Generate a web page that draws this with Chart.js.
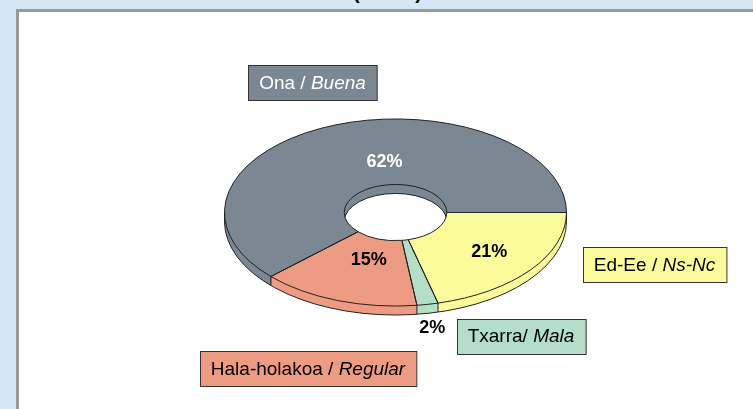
<!DOCTYPE html>
<html>
<head>
<meta charset="utf-8">
<script src="https://cdn.jsdelivr.net/npm/chart.js@4"></script>
<style>
  html, body { margin: 0; padding: 0; }
  body { width: 753px; height: 409px; background: #d5e6f4; position: relative; overflow: hidden; font-family: "Liberation Sans", Arial, sans-serif; }
  #panel { position: absolute; left: 16px; top: 9px; width: 760px; height: 420px; background: #fff;
           border-left: 3px solid #9a9a9a; border-top: 3px solid #9a9a9a; }
  #title { position: absolute; left: 0; width: 775px; top: -19px; text-align: center; font: bold 20px "Liberation Sans", Arial, sans-serif; white-space: pre; color: #000; }
  #chart { position: absolute; left: 0; top: 0; }
</style>
</head>
<body>
<div id="panel"></div>
<div id="title">(          )</div>
<canvas id="chart" width="753" height="409"></canvas>
<script>
// ======== Data ========
const labelsEu = ['Ed-Ee / ', 'Txarra/ ', 'Hala-holakoa / ', 'Ona / '];
const labelsEs = ['Ns-Nc', 'Mala', 'Regular', 'Buena'];
const values = [21, 2, 15, 62];
const colors = ['#fbfb9c', '#b4dec8', '#ee9b83', '#7b8893'];
const pctColors = ['#000', '#000', '#000', '#fff'];

// ======== Layout constants ========
const K = 0.547;     // vertical squash of the tilted ring
const DEPTH = 9;     // thickness of the ring side
const FONT = '"Liberation Sans", Arial, sans-serif';
const pctOffsets = [[6, 2], [16, 56], [11, -10], [30, 6]];
const boxCenters = [[654.5, 264.5], [521, 336], [308, 368.5], [312.5, 82.5]];

function ringPath(ctx, a, dy) {
  ctx.beginPath();
  ctx.ellipse(a.x, a.y + dy, a.outerRadius, a.outerRadius * K, 0, a.startAngle, a.endAngle);
  ctx.ellipse(a.x, a.y + dy, a.innerRadius, a.innerRadius * K, 0, a.endAngle, a.startAngle, true);
  ctx.closePath();
}

const tiltPlugin = {
  id: 'tilt',
  beforeDatasetsDraw(chart) {
    const ctx = chart.ctx;
    const arcs = chart.getDatasetMeta(0).data;
    // side of the ring, stacked layers
    for (let d = DEPTH; d >= 1; d--) {
      arcs.forEach((a, i) => {
        ringPath(ctx, a, d);
        ctx.fillStyle = colors[i];
        ctx.fill();
      });
    }
    const a = arcs[0];
    ctx.save();
    ctx.translate(a.x, a.y);
    ctx.scale(1, K);
    ctx.translate(-a.x, -a.y);
  },
  afterDatasetsDraw(chart) {
    const ctx = chart.ctx;
    ctx.restore();
    const arcs = chart.getDatasetMeta(0).data;
    const c = arcs[0];
    const R = c.outerRadius, r = c.innerRadius;
    ctx.save();
    ctx.strokeStyle = '#222';
    ctx.lineWidth = 1;
    // top outlines
    arcs.forEach(a => { ringPath(ctx, a, 0); ctx.stroke(); });
    // bottom rim of the front
    ctx.beginPath();
    ctx.ellipse(c.x, c.y + DEPTH, R, R * K, 0, 0, Math.PI);
    ctx.stroke();
    // vertical edges
    ctx.beginPath();
    ctx.moveTo(c.x - R, c.y); ctx.lineTo(c.x - R, c.y + DEPTH);
    ctx.moveTo(c.x + R, c.y); ctx.lineTo(c.x + R, c.y + DEPTH);
    arcs.forEach(a => {
      const t = a.startAngle;
      if (Math.sin(t) > 0.01) {
        const x = c.x + R * Math.cos(t), y = c.y + R * K * Math.sin(t);
        ctx.moveTo(x, y); ctx.lineTo(x, y + DEPTH);
      }
    });
    ctx.stroke();
    // inner wall bottom edge seen through the hole
    ctx.beginPath();
    ctx.ellipse(c.x, c.y, r, r * K, 0, 0, Math.PI * 2);
    ctx.clip();
    ctx.beginPath();
    ctx.ellipse(c.x, c.y + DEPTH, r, r * K, 0, Math.PI, Math.PI * 2);
    ctx.stroke();
    ctx.restore();
  },
  afterDraw(chart) {
    const ctx = chart.ctx;
    const arcs = chart.getDatasetMeta(0).data;
    const total = values.reduce((s, v) => s + v, 0);
    ctx.save();
    ctx.textAlign = 'center';
    ctx.textBaseline = 'middle';
    // percentages
    ctx.font = 'bold 18px ' + FONT;
    arcs.forEach((a, i) => {
      const mid = (a.startAngle + a.endAngle) / 2;
      const rm = (a.innerRadius + a.outerRadius) / 2;
      const x = a.x + rm * Math.cos(mid) + pctOffsets[i][0];
      const y = a.y + rm * K * Math.sin(mid) + pctOffsets[i][1];
      ctx.fillStyle = pctColors[i];
      ctx.fillText(Math.round(values[i] / total * 100) + '%', x, y);
    });
    // category boxes
    ctx.textAlign = 'left';
    labelsEu.forEach((eu, i) => {
      ctx.font = '19px ' + FONT;
      const w1 = ctx.measureText(eu).width;
      ctx.font = 'italic 19px ' + FONT;
      const w2 = ctx.measureText(labelsEs[i]).width;
      const w = w1 + w2 + 22, h = 35;
      const [cx, cy] = boxCenters[i];
      const bx = Math.round(cx - w / 2) + 0.5, by = Math.round(cy - h / 2) + 0.5;
      ctx.fillStyle = colors[i];
      ctx.fillRect(bx, by, w, h);
      ctx.strokeStyle = '#333';
      ctx.lineWidth = 1;
      ctx.strokeRect(bx, by, w, h);
      ctx.fillStyle = i === 3 ? '#fff' : '#000';
      ctx.font = '19px ' + FONT;
      ctx.fillText(eu, cx - (w1 + w2) / 2, cy + 1);
      ctx.font = 'italic 19px ' + FONT;
      ctx.fillText(labelsEs[i], cx - (w1 + w2) / 2 + w1, cy + 1);
    });
    ctx.restore();
  }
};

// ======== Chart ========
new Chart(document.getElementById('chart'), {
  type: 'doughnut',
  data: {
    labels: labelsEu.map((eu, i) => eu + labelsEs[i]),
    datasets: [{
      data: values,
      backgroundColor: colors,
      borderWidth: 0
    }]
  },
  options: {
    responsive: false,
    animation: false,
    rotation: 90,
    cutout: '30%',
    layout: { padding: { left: 224.5, right: 186.5, top: 41.5, bottom: 25.5 } },
    plugins: { legend: { display: false }, tooltip: { enabled: false } }
  },
  plugins: [tiltPlugin]
});
</script>
</body>
</html>
